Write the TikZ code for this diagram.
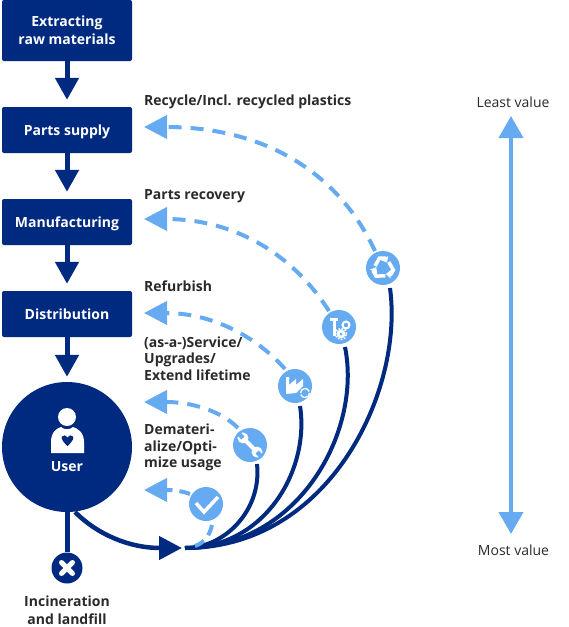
\documentclass[tikz,border=0pt]{standalone}
\usepackage{fontspec}
\setmainfont{Open Sans}[BoldFont={Open Sans Bold},BoldFeatures={}]
\usetikzlibrary{arrows.meta}
\definecolor{navy}{HTML}{002A7F}
\definecolor{sky}{HTML}{66ABF1}
\definecolor{ink}{HTML}{2A2A2A}
\newcommand{\lowertext}[1]{\raisebox{-5pt}[0pt][0pt]{#1}}
\tikzset{
  stagebox/.style={draw=none,fill=navy,rounded corners=2pt,minimum width=130pt,text=white,font=\fontsize{14}{18}\selectfont\bfseries,align=center,inner sep=0pt},
  lab/.style={text=ink,font=\fontsize{14}{16.5}\selectfont\bfseries,align=left,anchor=west,inner sep=0pt},
  midlab/.style={text=ink,font=\fontsize{14}{18}\selectfont\bfseries,align=center,inner sep=0pt},
  icon/.style={circle,fill=sky,minimum size=34pt,inner sep=0pt},
  flow/.style={draw=navy,line width=5pt,-{Triangle[width=23pt,length=22pt]}},
  back/.style={draw=sky,line width=4pt,dash pattern=on 13pt off 9pt,-{Triangle[width=23pt,length=23pt]}},
  ret/.style={draw=navy,line width=4pt}
}
\begin{document}
\begin{tikzpicture}[x=1pt,y=-1pt]
\useasboundingbox (0,0) rectangle (569,627);
% stages
\node[stagebox,minimum height=61pt] (raw) at (67,30.5) {Extracting\\raw materials};
\node[stagebox,minimum height=46pt] (parts) at (67,130) {\lowertext{Parts supply}};
\node[stagebox,minimum height=46pt] (manu) at (67,222) {\lowertext{Manufacturing}};
\node[stagebox,minimum height=46pt] (dist) at (67,314) {\lowertext{Distribution}};
\node[circle,fill=navy,minimum size=130pt,inner sep=0pt] (user) at (67,447) {};
\node[text=white,font=\fontsize{14}{16}\selectfont\bfseries,inner sep=0pt] (userlab) at (67,467) {User};
\node[circle,fill=navy,minimum size=31pt,inner sep=0pt] (end) at (67,568) {};
\node[midlab] (endlab) at (67,610) {Incineration\\and landfill};
% main flow
\draw[flow,shorten >=7pt] (raw.south) -- (parts.north);
\draw[flow,shorten >=7pt] (parts.south) -- (manu.north);
\draw[flow,shorten >=7pt] (manu.south) -- (dist.north);
\draw[flow,shorten >=5pt] (dist.south) -- (user.north);
\draw[navy,line width=5pt] (user.south) -- (end.north);
% hub and tips
\coordinate (hub) at (185,548);
\coordinate (hubin) at (182,548);
\coordinate (t1) at (144,127);
\coordinate (t2) at (144,219);
\coordinate (t3) at (144,313);
\coordinate (t4) at (144,402);
\coordinate (t5) at (144,490);
\coordinate (l1) at (75,512);
% loop icons
\node[icon] (i1) at (383,268) {};
\node[icon] (i2) at (339,327) {};
\node[icon] (i3) at (295,386) {};
\node[icon] (i4) at (250,445) {};
\node[icon] (i5) at (206,504) {};
% return curves
\draw[ret,line cap=butt,line width=4.5pt,-{Triangle[width=23pt,length=23pt]}] (l1) .. controls (98,535) and (130,548) .. (hubin);
\draw[ret] (390,288) .. controls (404,390) and (330,548) .. (hub);
\draw[ret] (345,347) .. controls (362,430) and (300,548) .. (hub);
\draw[ret] (300,406) .. controls (310,470) and (265,548) .. (hub);
\draw[ret] (257,464) .. controls (262,510) and (225,548) .. (hub);
% recovery arrows
\draw[back] (375,251) .. controls (335,165) and (255,127) .. (t1);
\draw[back] (329,311) .. controls (290,250) and (230,219) .. (t2);
\draw[back] (285,369) .. controls (255,335) and (210,313) .. (t3);
\draw[back] (238,428) .. controls (220,410) and (190,402) .. (t4);
\draw[draw=sky,line width=4pt,dash pattern=on 11pt off 7pt,-{Triangle[width=23pt,length=23pt]}] (190,494) .. controls (182,491) and (175,490) .. (t5);
\draw[draw=sky,line width=4pt,dash pattern=on 11pt off 7pt] (212,525) .. controls (210,535) and (204,543) .. (195,546);
% labels
\node[lab] (a) at (144,102) {Recycle/Incl. recycled plastics};
\node[lab] (b) at (144,196) {Parts recovery};
\node[lab] (c) at (144,286.5) {Refurbish};
\node[lab] (d) at (144,358.5) {(as-a-)Service/\\Upgrades/\\Extend lifetime};
\node[lab] (e) at (144,447.5) {Demateri-\\alize/Opti-\\mize usage};
\node[text=ink,font=\fontsize{14}{16}\selectfont,inner sep=0pt] (lv) at (513,102) {Least value};
\node[text=ink,font=\fontsize{14}{16}\selectfont,inner sep=0pt] (mv) at (513.5,550) {Most value};
% scale
\coordinate (s1) at (511,116);
\coordinate (s2) at (511,534);
\draw[sky,line width=4pt,{Triangle[width=24pt,length=22pt]}-{Triangle[width=24pt,length=22pt]}] (s1) -- (s2);
% person icon
\fill[white] (67,417) circle (9pt);
\fill[white] (51,453) -- (51,442) .. controls (51,432) and (57,428) .. (61,427) .. controls (64,430) and (70,430) .. (73,427) .. controls (77,428) and (84,432) .. (84,442) -- (84,453) -- cycle;
\fill[navy] (67.5,446) .. controls (62,441) and (61,438) .. (62,436.5) .. controls (63.5,434.5) and (66.5,435) .. (67.5,437.5) .. controls (68.5,435) and (71.5,434.5) .. (73,436.5) .. controls (74,438) and (73,441) .. (67.5,446) -- cycle;
% cross icon
\draw[white,line width=5pt,line cap=round] (61.5,562.5) -- (72.5,573.5) (72.5,562.5) -- (61.5,573.5);
% check icon
\draw[white,line width=3.5pt,line join=miter] (196,503) -- (204,512) -- (218,497);
% wrench icon
\begin{scope}[shift={(250,445)},rotate=-45,yscale=-1]
  \fill[white] (-9,-2) rectangle (9,2);
  \fill[white] (-10,0) circle (5.5pt) (10,0) circle (5.5pt);
  \fill[sky] (-17,-2.2) rectangle (-10,2.2);
  \fill[sky] (10,-2.2) rectangle (17,2.2);
\end{scope}
% tool and gears icon
\draw[white,line width=3pt] (334,320) -- (334,336);
\draw[white,line width=3pt] (330,319) -- (338,319);
\draw[white,line width=2pt] (346,325) circle (3.5pt);
\fill[white] (341,334) circle (4.5pt);
\draw[white,line width=1.6pt,dash pattern=on 1.6pt off 1.6pt] (341,334) circle (5.6pt);
\fill[sky] (341,334) circle (1.5pt);
% factory icon
\fill[white] (286,377) -- (289,377) -- (289,385) -- (296,379) -- (296,385) -- (303,379) -- (303,386) -- (296,393) -- (286,394) -- cycle;
\draw[white,line width=1.3pt] (300.5,393) arc (180:20:4.5pt);
\draw[white,line width=1.3pt] (309.5,393) arc (0:-160:4.5pt);
% recycle icon
\begin{scope}[shift={(383,268)}]
  \foreach \a in {0,120,240}{
    \draw[white,line width=3.5pt,rotate=\a,-{Triangle[width=8pt,length=5pt]}] (-8,-2) -- (-3.5,-10) -- (1.5,-10) -- (4,-5.5);
  }
\end{scope}
\end{tikzpicture}
\end{document}
